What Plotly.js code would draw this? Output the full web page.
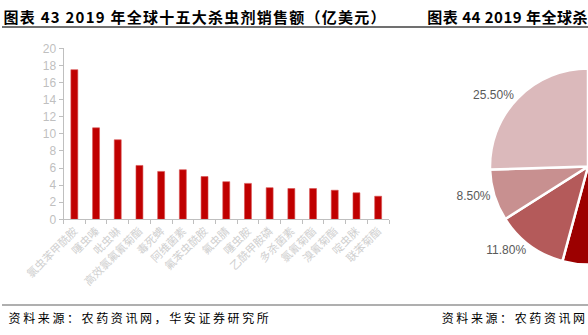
<!DOCTYPE html>
<html>
<head>
<meta charset="utf-8">
<script src="https://cdn.plot.ly/plotly-3.0.1.min.js"></script>
<style>
html,body{margin:0;padding:0;width:588px;height:335px;overflow:hidden;background:#fff;}
#chart{width:800px;height:335px;}
#chart .annotation[data-index="0"] text{letter-spacing:1.25px;}
#chart .annotation[data-index="1"] text{letter-spacing:0.5px;}
#chart .annotation[data-index="2"] text,
#chart .annotation[data-index="3"] text{letter-spacing:2.6px;}
</style>
</head>
<body>
<div id="chart"></div>
<script>
// Chart 43: top 15 insecticide sales 2019 (亿美元)
const categories = ["氯虫苯甲酰胺","噻虫嗪","吡虫啉","高效氯氟氰菊酯","毒死蜱","阿维菌素","氟苯虫酰胺","氟虫腈","噻虫胺","乙酰甲胺磷","多杀菌素","氯氰菊酯","溴氰菊酯","啶虫脒","联苯菊酯"];
const sales = [17.5, 10.7, 9.3, 6.3, 5.6, 5.8, 5.0, 4.4, 4.2, 3.7, 3.6, 3.6, 3.4, 3.1, 2.7];
const yTicks = [0,2,4,6,8,10,12,14,16,18,20];

// Chart 44: share pie (only its left part is visible in the picture)
const pieLabels = ["A","B","C","D","E","F"];
const pieValues = [22.4, 14.8, 17.0, 11.8, 8.5, 25.5];
const pieColors = ["#c00000","#7f0000","#9c0000","#b45a5a","#c89090","#dbb9bb"];
const pieShowText = [false, false, false, true, true, true];

const titleLeft = "图表 43 2019 年全球十五大杀虫剂销售额（亿美元）";
const titleRight = "图表 44 2019 年全球杀";
const sourceLeft = "资料来源：农药资讯网，华安证券研究所";
const sourceRight = "资料来源：农药资讯网，";

const W = 800, H = 335;
const px = v => v / W;
const py = v => 1 - v / H;

const cjk = "Noto Sans CJK SC, sans-serif";
const lat = "Liberation Sans, Arial, sans-serif";

const bar = {
  type: "bar",
  x: categories,
  y: sales,
  marker: {color: "#c00000", line: {color: "#d85050", width: 0.6}},
  xaxis: "x", yaxis: "y",
  hoverinfo: "skip"
};

const pie = {
  type: "pie",
  labels: pieLabels,
  values: pieValues,
  sort: false,
  direction: "clockwise",
  rotation: 0,
  marker: {colors: pieColors, line: {color: "#ffffff", width: 2.5}},
  textposition: "outside",
  texttemplate: pieShowText.map(s => s ? "%{value:.2f}%" : ""),
  textfont: {family: lat, size: 12, color: "#595959"},
  domain: {x: [px(588-98), px(588+98)], y: [py(265), py(68)]},
  showlegend: false,
  hoverinfo: "skip"
};

const layout = {
  width: W, height: H,
  margin: {l: 0, r: 0, t: 0, b: 0},
  paper_bgcolor: "#ffffff",
  plot_bgcolor: "rgba(0,0,0,0)",
  showlegend: false,
  bargap: 0.68,
  xaxis: {
    domain: [px(63.5), px(389)],
    anchor: "y",
    showline: true, linecolor: "#bfbfbf", linewidth: 1,
    ticks: "outside", ticklen: 4, tickcolor: "#bfbfbf",
    tickson: "boundaries",
    tickangle: -45,
    tickfont: {family: cjk, size: 11, color: "#d0d0d0"},
    showgrid: false, zeroline: false, fixedrange: true
  },
  yaxis: {
    domain: [py(219.3), py(48.3)],
    anchor: "x",
    range: [0, 20],
    tickvals: yTicks,
    showline: true, linecolor: "#bfbfbf", linewidth: 1,
    ticks: "outside", ticklen: 4, tickcolor: "#bfbfbf",
    tickfont: {family: lat, size: 12, color: "#bfbfbf"},
    showgrid: false, zeroline: false, fixedrange: true
  },
  shapes: [
    {type: "line", xref: "paper", yref: "paper", x0: px(2), x1: px(W), y0: py(27), y1: py(27), line: {color: "#404040", width: 1.5}},
    {type: "line", xref: "paper", yref: "paper", x0: px(2), x1: px(W), y0: py(305), y1: py(305), line: {color: "#606060", width: 1.2}}
  ],
  annotations: [
    {text: "<b>" + titleLeft + "</b>", xref: "paper", yref: "paper", x: px(195), y: py(17), xanchor: "center", yanchor: "middle", showarrow: false, font: {family: cjk, size: 15, color: "#000000"}},
    {text: "<b>" + titleRight + "</b>", xref: "paper", yref: "paper", x: px(507.5), y: py(17), xanchor: "center", yanchor: "middle", showarrow: false, font: {family: cjk, size: 15, color: "#000000"}},
    {text: sourceLeft, xref: "paper", yref: "paper", x: px(139.5), y: py(317), xanchor: "center", yanchor: "middle", showarrow: false, font: {family: cjk, size: 12, color: "#000000"}},
    {text: sourceRight, xref: "paper", yref: "paper", x: px(522), y: py(317), xanchor: "center", yanchor: "middle", showarrow: false, font: {family: cjk, size: 12, color: "#000000"}}
  ]
};

Plotly.newPlot("chart", [bar, pie], layout, {displayModeBar: false, staticPlot: true});
</script>
</body>
</html>
